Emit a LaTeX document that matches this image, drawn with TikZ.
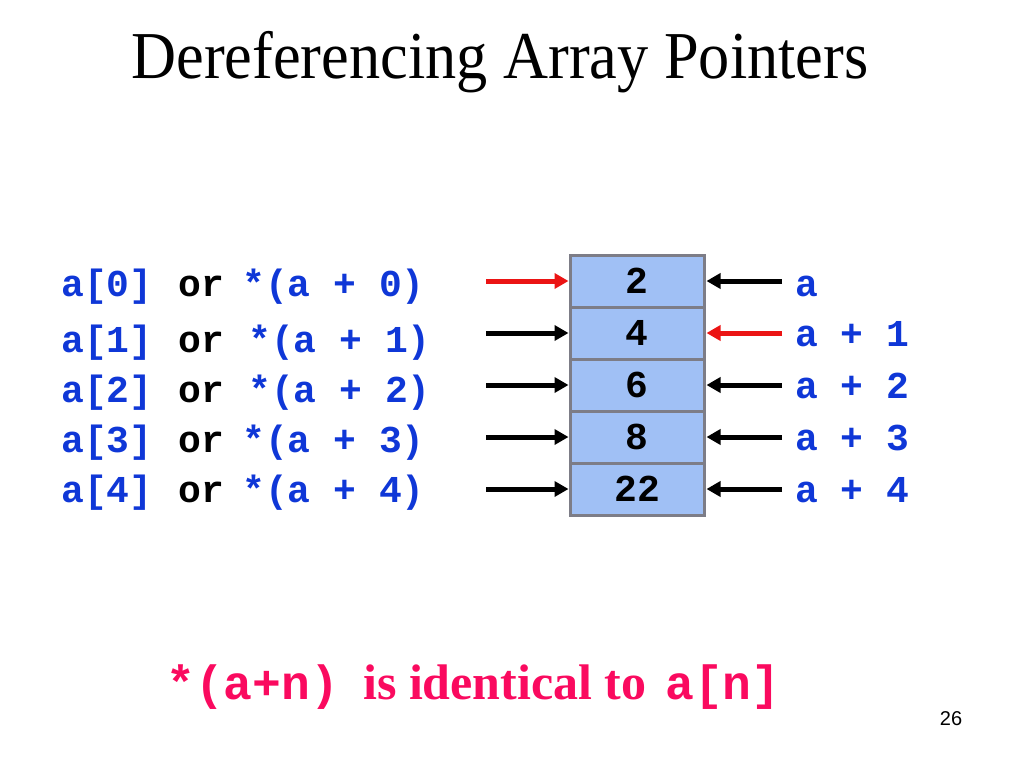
\documentclass[tikz,border=0pt]{standalone}
\usepackage{fontspec}
\usepackage{graphicx}
\setmainfont{Liberation Serif}
\newfontfamily\monof{Liberation Mono}
\newfontfamily\arialf{Liberation Sans}
\usetikzlibrary{arrows.meta}
\definecolor{codeblue}{RGB}{15,55,215}
\definecolor{cellfill}{RGB}{160,192,245}
\definecolor{cellline}{RGB}{125,125,135}
\definecolor{arrred}{RGB}{235,20,20}
\definecolor{pinkred}{RGB}{250,10,95}
\tikzset{
  cell/.style={draw=cellline, line width=3pt, fill=cellfill, minimum width=134pt, minimum height=52pt, inner sep=0pt, font=\monof\bfseries\fontsize{38}{40}\selectfont},
  code/.style={anchor=base west, inner sep=0pt, text=codeblue, font=\monof\bfseries\fontsize{38}{40}\selectfont},
  orword/.style={anchor=base west, inner sep=0pt, text=black, font=\monof\bfseries\fontsize{38}{40}\selectfont},
  arr/.style={line width=5pt, -{Triangle[length=14pt,width=15pt]}},
}
\begin{document}
\begin{tikzpicture}[x=1pt,y=-1pt]
\useasboundingbox (0,0) rectangle (1024,768);
% title
\node[anchor=base, inner sep=0pt, font=\fontsize{67}{70}\selectfont] (title) at (500,78) {\scalebox{0.93}[1]{Dereferencing Array Pointers}};
% cells
\node[cell] (c0) at (637,281) {2};
\node[cell] (c1) at (637,333) {4};
\node[cell] (c2) at (637,385) {6};
\node[cell] (c3) at (637,437) {8};
\node[cell] (c4) at (637,489) {22};
% left labels
\node[code] (la0) at (61,296) {a[0]};
\node[orword] (lo0) at (178,296) {or};
\node[code] (lp0) at (242,296) {*(a + 0)};
\node[code] (la1) at (61,352) {a[1]};
\node[orword] (lo1) at (178,352) {or};
\node[code] (lp1) at (248,352) {*(a + 1)};
\node[code] (la2) at (61,402) {a[2]};
\node[orword] (lo2) at (178,402) {or};
\node[code] (lp2) at (248,402) {*(a + 2)};
\node[code] (la3) at (61,452) {a[3]};
\node[orword] (lo3) at (178,452) {or};
\node[code] (lp3) at (242,452) {*(a + 3)};
\node[code] (la4) at (61,502) {a[4]};
\node[orword] (lo4) at (178,502) {or};
\node[code] (lp4) at (242,502) {*(a + 4)};
% right labels
\node[code] (r0t) at (795,296) {a};
\node[code] (r1t) at (795,346) {a + 1};
\node[code] (r2t) at (795,398) {a + 2};
\node[code] (r3t) at (795,450) {a + 3};
\node[code] (r4t) at (795,502) {a + 4};
% arrow start points
\coordinate (l0) at (486,281);
\coordinate (l1) at (486,333);
\coordinate (l2) at (486,385);
\coordinate (l3) at (486,437);
\coordinate (l4) at (486,489);
\coordinate (r0) at (782,281);
\coordinate (r1) at (782,333);
\coordinate (r2) at (782,385);
\coordinate (r3) at (782,437);
\coordinate (r4) at (782,489);
\draw[arr, arrred] (l0) -- (c0.west);
\draw[arr] (l1) -- (c1.west);
\draw[arr] (l2) -- (c2.west);
\draw[arr] (l3) -- (c3.west);
\draw[arr] (l4) -- (c4.west);
\draw[arr] (r0) -- ([xshift=1pt]c0.east);
\draw[arr, arrred] (r1) -- ([xshift=1pt]c1.east);
\draw[arr] (r2) -- ([xshift=1pt]c2.east);
\draw[arr] (r3) -- ([xshift=1pt]c3.east);
\draw[arr] (r4) -- ([xshift=1pt]c4.east);
% bottom statement
\node[anchor=base west, inner sep=0pt, text=pinkred, font=\monof\bfseries\fontsize{48}{50}\selectfont] (b1) at (166,699) {*(a+n)};
\node[anchor=base west, inner sep=0pt, text=pinkred, font=\bfseries\fontsize{50}{52}\selectfont] (b2) at (363,699) {is identical to};
\node[anchor=base west, inner sep=0pt, text=pinkred, font=\monof\bfseries\fontsize{48}{50}\selectfont] (b3) at (665,699) {a[n]};
% page number
\node[anchor=base, inner sep=0pt, font=\arialf\fontsize{20}{22}\selectfont] (pg) at (951,725) {26};
\end{tikzpicture}
\end{document}
